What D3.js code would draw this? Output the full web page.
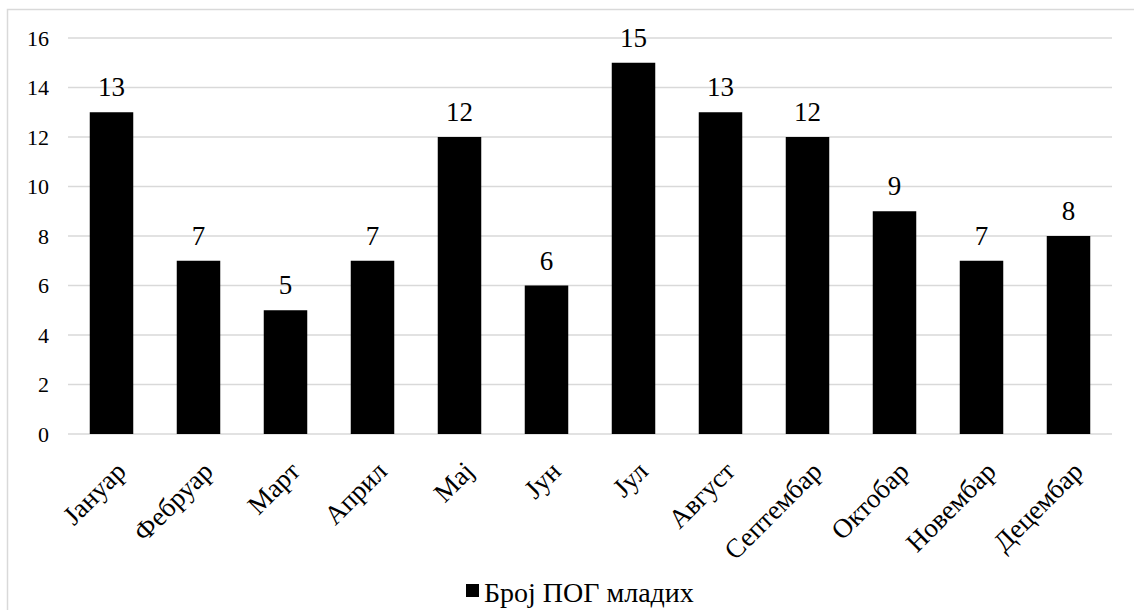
<!DOCTYPE html>
<html><head><meta charset="utf-8">
<script src="https://cdn.jsdelivr.net/npm/d3@7"></script>
<style>body{margin:0;background:#fff;}svg{display:block;}</style>
</head><body>
<svg id="c" width="1134" height="610"></svg>
<script>
const categories = ["Јануар","Фебруар","Март","Април","Мај","Јун","Јул","Август","Септембар","Октобар","Новембар","Децембар"];
const values = [13,7,5,7,12,6,15,13,12,9,7,8];
const yTicks = [0,2,4,6,8,10,12,14,16];
const seriesName = "Број ПОГ младих";

(function(){
const FF = '"Liberation Serif"';
const svg = d3.select("#c");
svg.append("rect").attr("x",7.5).attr("y",9.5).attr("width",1140).attr("height",620)
  .attr("fill","#fff").attr("stroke","#d9d9d9").attr("stroke-width",1.5);

const pL=68, pR=1112, pT=38, pB=434;
const x = d3.scaleBand().domain(categories).range([pL,pR]).paddingInner(0.5).paddingOuter(0.25);
const y = d3.scaleLinear().domain([0,16]).range([pB,pT]);

const grid = svg.append("g");
grid.selectAll("line").data(yTicks).join("line")
  .attr("x1",pL).attr("x2",pR).attr("y1",d=>y(d)).attr("y2",d=>y(d))
  .attr("stroke","#d9d9d9").attr("stroke-width",1.5);

const yAxis = svg.append("g").attr("transform",`translate(${pL},0)`)
  .call(d3.axisLeft(y).tickValues(yTicks).tickSize(0).tickPadding(19));
yAxis.select(".domain").remove();
yAxis.selectAll("text").style("font-family",FF).attr("font-size",22).attr("fill","#000");

svg.append("g").selectAll("rect").data(values).join("rect")
  .attr("x",(d,i)=>x(categories[i])).attr("width",x.bandwidth())
  .attr("y",d=>y(d)).attr("height",d=>pB-y(d)).attr("fill","#000");

svg.append("g").selectAll("text").data(values).join("text")
  .attr("x",(d,i)=>x(categories[i])+x.bandwidth()/2).attr("y",d=>y(d)-16)
  .attr("text-anchor","middle").style("font-family",FF).attr("font-size",27).attr("fill","#000").text(d=>d);

const xAxis = svg.append("g").attr("transform",`translate(0,${pB})`)
  .call(d3.axisBottom(x).tickSize(0).tickPadding(0));
xAxis.select(".domain").remove();
xAxis.selectAll("text").style("font-family",FF).attr("font-size",27).attr("fill","#000")
  .attr("text-anchor","end").attr("dy",0).attr("y",0)
  .attr("transform","translate(16,39) rotate(-45)");

const lg = svg.append("g");
lg.append("rect").attr("x",466).attr("y",584).attr("width",13).attr("height",13).attr("fill","#000");
lg.append("text").attr("x",484).attr("y",602).style("font-family",FF).attr("font-size",28).attr("fill","#000").text(seriesName);
})();
</script>
</body></html>
